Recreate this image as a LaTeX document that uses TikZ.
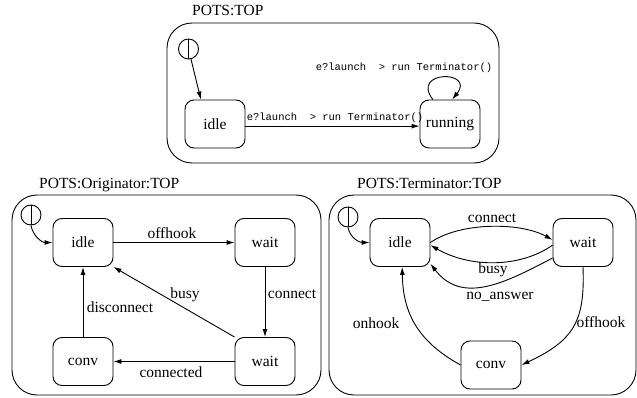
\documentclass[tikz,border=0pt]{standalone}
\usepackage{fontspec}
\setmainfont{Liberation Serif}
\setmonofont{Liberation Mono}
\newfontfamily\labelserif{Liberation Serif}
\newfontfamily\labelmono{Liberation Mono}
\usetikzlibrary{arrows.meta}
\begin{document}
\begin{tikzpicture}[x=1pt,y=1pt,
  every node/.style={font=\labelserif\fontsize{15.5}{18}\selectfont, inner sep=0pt},
  state/.style={draw, rounded corners=9pt, minimum width=60pt, minimum height=48pt, line width=0.9pt},
  chart/.style={draw, rounded corners=25pt, line width=0.9pt},
  initial/.style={draw, circle, minimum size=20pt, line width=0.9pt,
    path picture={\draw[line width=0.9pt] (path picture bounding box.north) -- (path picture bounding box.south);}},
  trans/.style={line width=0.9pt, -{Latex[length=8pt,width=5pt]}},
  action/.style={font=\labelmono\fontsize{10.5}{12}\selectfont},
  title/.style={anchor=base west},
]
\useasboundingbox (0,0) rectangle (637,-398);

% ---- POTS:TOP ----
\draw[chart] (167,-23) rectangle (499,-163);
\node[title] (ttop) at (192,-16) {POTS:TOP};
\node[initial] (ini1) at (188.5,-49) {};
\node[state] (idle1) at (215,-124) {idle};
\node[state] (run1) at (450,-124) {running};
\draw[trans] (ini1) -- (idle1.120);
\draw[trans] (idle1.-4) -- (run1.184);
\node[action] (act1) at (335,-118) {e?launch\ \ > run Terminator()};
\draw[trans] (run1.125) .. controls (410,-70) and (476,-70) .. (run1.85);
\node[action] (act2) at (404,-68) {e?launch\ \ > run Terminator()};

% ---- POTS:Originator:TOP ----
\draw[chart] (12,-195) rectangle (321,-395);
\node[title] (torig) at (39,-189) {POTS:Originator:TOP};
\node[initial] (ini2) at (31,-215) {};
\node[state] (oidle) at (83,-242.5) {idle};
\node[state] (owa) at (265,-242.5) {wait};
\node[state] (oconv) at (83,-361.5) {conv};
\node[state] (owb) at (265,-361.5) {wait};
\draw[trans] (ini2.south) to[out=-80,in=180] (oidle.west);
\draw[trans] (oidle) -- (owa);
\draw[trans] (owa) -- (owb);
\draw[trans] (owb.north west) -- (oidle.south east);
\draw[trans] (oconv) -- (oidle);
\draw[trans] (owb) -- (oconv);
\node (l1) at (172,-233) {offhook};
\node (l2) at (292,-294) {connect};
\node (l3) at (185,-295) {busy};
\node (l4) at (120,-307) {disconnect};
\node (l5) at (171,-372) {connected};

% ---- POTS:Terminator:TOP ----
\draw[chart] (329,-195) rectangle (636,-395);
\node[title] (tterm) at (357,-189) {POTS:Terminator:TOP};
\node[initial] (ini3) at (348,-217) {};
\node[state] (tidle) at (400,-242.5) {idle};
\node[state] (twait) at (583,-242.5) {wait};
\node[state] (tconv) at (491,-365) {conv};
\draw[trans] (ini3.south) to[out=-80,in=180] (tidle.west);
\draw[trans] (tidle.east) .. controls (460,-222) and (520,-222) .. (twait.175);
\draw[trans] (twait.185) .. controls (520,-268) and (470,-268) .. (tidle.-5);
\draw[trans] (twait.207) .. controls (505,-283) and (462,-305) .. (tidle.-35);
\draw[trans] (tconv.west) .. controls (415,-340) and (403,-310) .. (tidle.-85);
\draw[trans] (twait.south) .. controls (585,-320) and (575,-340) .. (tconv.east);
\node (m1) at (492,-218) {connect};
\node (m2) at (493,-270) {busy};
\node (m3) at (500,-297) {no\_answer};
\node (m4) at (376,-323) {onhook};
\node (m5) at (601,-322) {offhook};
\end{tikzpicture}
\end{document}
